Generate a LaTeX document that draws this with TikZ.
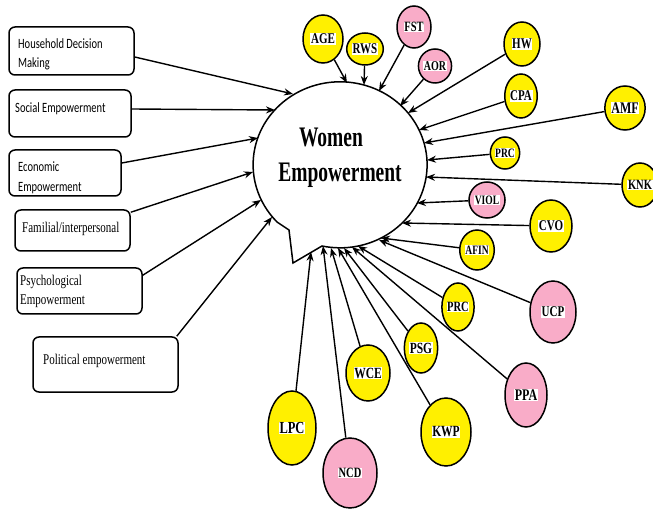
\documentclass[tikz,border=0pt]{standalone}
\usepackage{fontspec}
\setmainfont{Liberation Serif}
\newfontfamily\calib{Carlito}
\usetikzlibrary{shapes.geometric,arrows.meta,calc}
\definecolor{cyel}{RGB}{255,240,0}
\definecolor{cpink}{RGB}{249,172,200}
\newcommand{\vst}[1]{\scalebox{1}[1.35]{#1}}
\newcommand{\hlw}[1]{{\setlength{\fboxsep}{0.6pt}\colorbox{white}{\vst{#1}}}}
\begin{document}
\begin{tikzpicture}[x=1pt,y=-1pt,
  fs/.style={font=\fontsize{#1}{#1}\selectfont\bfseries},
  bub/.style={ellipse,draw=black,line width=1.5pt,inner sep=0pt},
  yc/.style={bub,fill=cyel},
  pc/.style={bub,fill=cpink},
  sbox/.style={draw=black,line width=1.5pt,rounded corners=6pt,inner sep=0pt},
  conn/.style={line width=1.4pt,-{Stealth[length=9pt,width=7pt]}},
  btxt/.style={anchor=base west,inner sep=0pt},
  ctxt/.style={font=\calib\fontsize{10.5}{14}\selectfont},
  stxt/.style={font=\fontsize{11}{14}\selectfont},
]
\clip (0,0) rectangle (653,510);
\fill[white] (0,0) rectangle (653,510);

% speech bubble
\draw[line width=1.5pt, fill=white] (322,246) arc[start angle=258, end angle=583.6, x radius=87pt, y radius=83pt] -- (289,230) -- (293,263) -- cycle;
\node[anchor=base,inner sep=0pt,font=\fontsize{19.5}{23}\selectfont\bfseries] (wt1) at (331,147) {\scalebox{1}[1.45]{Women}};
\node[anchor=base,inner sep=0pt,font=\fontsize{19.5}{23}\selectfont\bfseries] (wt2) at (340,182) {\scalebox{1}[1.45]{Empowerment}};

% targets on the bubble
\coordinate (t1) at (293,94);
\coordinate (t2) at (275,110);
\coordinate (t3) at (258,138);
\coordinate (t4) at (253,172);
\coordinate (t5) at (261,200);
\coordinate (t6) at (272,217);
\coordinate (tAGE) at (347,83);
\coordinate (tRWS) at (364,85);
\coordinate (tFST) at (379,91);
\coordinate (tAOR) at (400,106);
\coordinate (tHW) at (408,113);
\coordinate (tCPA) at (419,130);
\coordinate (tAMF) at (424,143);
\coordinate (tPRCa) at (427,160);
\coordinate (tKNK) at (426,177);
\coordinate (tVIOL) at (417,203);
\coordinate (tCVO) at (402,223);
\coordinate (tAFIN) at (381,238);
\coordinate (tUCP) at (379,240);
\coordinate (tPRCb) at (358,246);
\coordinate (tPPA) at (352,247);
\coordinate (tPSG) at (344,248);
\coordinate (tKWP) at (338,248);
\coordinate (tWCE) at (331,248);
\coordinate (tNCD) at (323,246);
\coordinate (tLPC) at (311,252);

% left boxes
\node[sbox,minimum width=125pt,minimum height=48pt] (b1) at (71.5,51) {};
\node[sbox,minimum width=122pt,minimum height=47pt] (b2) at (70,113.5) {};
\node[sbox,minimum width=112pt,minimum height=46pt] (b3) at (65,173) {};
\node[sbox,minimum width=115pt,minimum height=41pt] (b4) at (72.5,230.5) {};
\node[sbox,minimum width=125pt,minimum height=46pt] (b5) at (79.5,291) {};
\node[sbox,minimum width=145pt,minimum height=55pt] (b6) at (105.5,364.5) {};

\node[btxt,ctxt] (x1) at (18,49) {\vst{\begin{tabular}[t]{@{}l@{}}Household Decision\\Making\end{tabular}}};
\node[btxt,ctxt] (x2) at (15,113) {\vst{Social Empowerment}};
\node[btxt,ctxt] (x3) at (18,172) {\vst{\begin{tabular}[t]{@{}l@{}}Economic\\[0.5pt]Empowerment\end{tabular}}};
\node[btxt,stxt] (x4) at (22,233) {\vst{Familial/interpersonal}};
\node[btxt,stxt] (x5) at (20,286) {\vst{\begin{tabular}[t]{@{}l@{}}Psychological\\[-0.5pt]Empowerment\end{tabular}}};
\node[btxt,stxt] (x6) at (43,364) {\vst{Political empowerment}};

\draw[conn] ([yshift=-6pt]b1.east) -- (t1);
\draw[conn] ([yshift=4.5pt]b2.east) -- (t2);
\draw[conn] ([yshift=10pt]b3.east) -- (t3);
\draw[conn] ([yshift=-3pt]b4.north east) -- (t4);
\draw[conn] ([yshift=-8pt]b5.north east) -- (t5);
\draw[conn] ([xshift=-2pt]b6.north east) -- (t6);

% circles
\node[yc,minimum width=40pt,minimum height=48pt,fs=11] (AGE) at (323,39) {\hlw{AGE}};
\node[yc,minimum width=30pt,minimum height=32pt,fs=11] (RWS) at (365,49) {\hlw{RWS}};
\node[pc,minimum width=34pt,minimum height=42pt,fs=10.5] (FST) at (414,27) {\hlw{FST}};
\node[pc,minimum width=30pt,minimum height=34pt,fs=10] (AOR) at (435,66) {\hlw{AOR}};
\node[yc,minimum width=36pt,minimum height=44pt,fs=11] (HW) at (522,44) {\hlw{HW}};
\node[yc,minimum width=32pt,minimum height=44pt,fs=11] (CPA) at (521,96) {\hlw{CPA}};
\node[yc,minimum width=36pt,minimum height=44pt,fs=12] (AMF) at (625,108) {\hlw{AMF}};
\node[yc,minimum width=26pt,minimum height=32pt,fs=9.5] (PRCa) at (505,153) {\hlw{PRC}};
\node[yc,minimum width=36pt,minimum height=44pt,fs=10.5] (KNK) at (640,185) {\hlw{KNK}};
\node[pc,minimum width=32pt,minimum height=36pt,fs=9.5] (VIOL) at (487,200) {\hlw{VIOL}};
\node[yc,minimum width=42pt,minimum height=52pt,fs=11] (CVO) at (551,226) {\hlw{CVO}};
\node[yc,minimum width=32pt,minimum height=40pt,fs=9.5] (AFIN) at (477,250) {\hlw{AFIN}};
\node[yc,minimum width=32pt,minimum height=48pt,fs=10.5] (PRCb) at (458,307) {\hlw{PRC}};
\node[pc,minimum width=46pt,minimum height=62pt,fs=11] (UCP) at (553,312) {\hlw{UCP}};
\node[yc,minimum width=32pt,minimum height=50pt,fs=11.5] (PSG) at (421,348) {\hlw{PSG}};
\node[pc,minimum width=42pt,minimum height=64pt,fs=12] (PPA) at (526,395) {\hlw{PPA}};
\node[yc,minimum width=50pt,minimum height=68pt,fs=11.5] (KWP) at (446,432) {\hlw{KWP}};
\node[yc,minimum width=44pt,minimum height=56pt,fs=11.5] (WCE) at (368,373) {\hlw{WCE}};
\node[yc,minimum width=48pt,minimum height=74pt,fs=12.5] (LPC) at (292,428) {\hlw{LPC}};
\node[pc,minimum width=54pt,minimum height=70pt,fs=10.5] (NCD) at (350,473) {\hlw{NCD}};

\foreach \n in {AGE,RWS,FST,AOR,HW,CPA,AMF,PRCa,KNK,VIOL,CVO,AFIN,PRCb,UCP,PSG,PPA,KWP,WCE,LPC,NCD}
  \draw[conn] (\n) -- (t\n);
\end{tikzpicture}
\end{document}
